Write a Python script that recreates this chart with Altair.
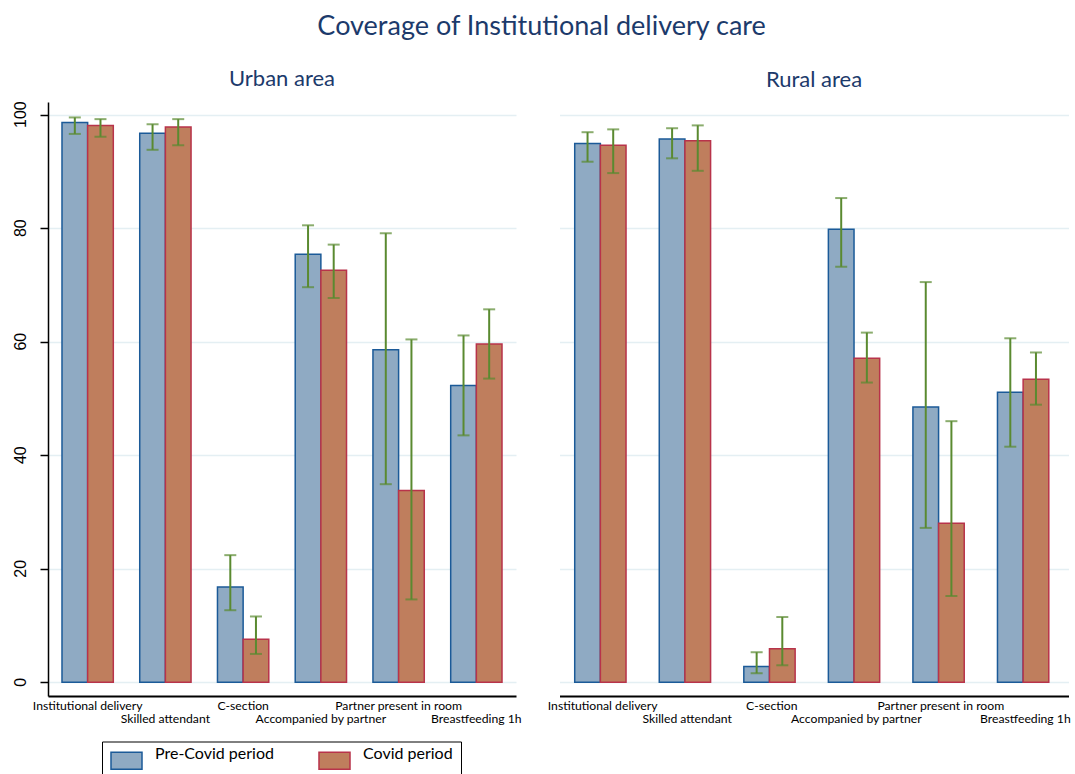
import json
import altair as alt
import pandas as pd

# Indicators (x categories) and periods
categories = [
    "Institutional delivery",
    "Skilled attendant",
    "C-section",
    "Accompanied by partner",
    "Partner present in room",
    "Breastfeeding 1h",
]
periods = ["Pre-Covid period", "Covid period"]

# Coverage (%) with 95% CI, urban area
urban_pre = [98.6, 96.7, 16.8, 75.4, 58.6, 52.3]
urban_pre_lo = [96.6, 93.8, 12.7, 69.6, 34.9, 43.5]
urban_pre_hi = [99.5, 98.3, 22.4, 80.5, 79.1, 61.1]
urban_cov = [98.1, 97.8, 7.6, 72.6, 33.8, 59.6]
urban_cov_lo = [96.1, 94.6, 5.0, 67.7, 14.6, 53.5]
urban_cov_hi = [99.2, 99.2, 11.6, 77.1, 60.4, 65.7]

# Coverage (%) with 95% CI, rural area
rural_pre = [94.9, 95.7, 2.8, 79.8, 48.5, 51.1]
rural_pre_lo = [91.7, 92.3, 1.6, 73.2, 27.2, 41.5]
rural_pre_hi = [96.9, 97.6, 5.3, 85.3, 70.5, 60.6]
rural_cov = [94.6, 95.4, 5.9, 57.1, 28.0, 53.4]
rural_cov_lo = [89.7, 90.1, 3.0, 52.8, 15.2, 48.9]
rural_cov_hi = [97.4, 98.1, 11.5, 61.6, 46.0, 58.1]

# y-axis tick values
Y_TICKS = [0, 20, 40, 60, 80, 100]

rows = []
for area, series in [
    ("Urban area", [(urban_pre, urban_pre_lo, urban_pre_hi), (urban_cov, urban_cov_lo, urban_cov_hi)]),
    ("Rural area", [(rural_pre, rural_pre_lo, rural_pre_hi), (rural_cov, rural_cov_lo, rural_cov_hi)]),
]:
    for period, (vals, los, his) in zip(periods, series):
        for cat, v, lo, hi in zip(categories, vals, los, his):
            rows.append({"area": area, "indicator": cat, "period": period,
                         "value": v, "lo": lo, "hi": hi})
df = pd.DataFrame(rows)
tick_df = pd.DataFrame({"tick": Y_TICKS})

NAVY = "#1C3A6B"
FILLS = ["#8FAAC3", "#BF7E5D"]
STROKES = ["#1B5A98", "#B8334A"]
GREEN = "#5A8A30"
GRID = "#E4EFF3"
FONT = "Lato"

# second-row labels are pushed down one line so the axis labels alternate
second_row = categories[1::2]
label_expr = f"indexof({json.dumps(second_row)}, datum.value) >= 0 ? ['', datum.label] : datum.label"

y_scale = alt.Scale(domain=[-2.41, 102.22], nice=False, zero=False)
H = 594

# legend key: a 31x17 rectangle drawn on a 17px symbol slot, nudged down a little
KEY_PATH = "M-1.824,-0.82H1.824V1.18H-1.824Z"


def panel(area, width, show_y):
    if show_y:
        y_axis = alt.Axis(values=Y_TICKS, title=None, grid=True,
                          gridColor=GRID, gridWidth=1.5, domainColor="black",
                          domainWidth=1.5, tickColor="black", tickWidth=1.5, tickSize=8,
                          labels=False)
    else:
        y_axis = alt.Axis(values=Y_TICKS, title=None, grid=True,
                          gridColor=GRID, gridWidth=1.5, domain=False, ticks=False,
                          labels=False)

    x_enc = alt.X("indicator:N", sort=categories, title=None,
                  scale=alt.Scale(paddingInner=0.34, paddingOuter=0.18),
                  axis=alt.Axis(labelAngle=0, ticks=False, domainColor="black",
                                domainWidth=2, labelExpr=label_expr, labelFont=FONT,
                                labelFontSize=12.2, labelColor="black", labelPadding=3,
                                labelLineHeight=13.5, labelOverlap=False,
                                labelBaseline="top", labelLimit=300))
    xo = alt.XOffset("period:N", sort=periods)

    base = alt.Chart(df).transform_filter(alt.datum.area == area)

    bars = base.mark_bar(strokeWidth=1.5).encode(
        x=x_enc,
        xOffset=xo,
        y=alt.Y("value:Q", scale=y_scale, axis=y_axis),
        y2=alt.datum(0),
        fill=alt.Fill("period:N", sort=periods,
                      scale=alt.Scale(domain=periods, range=FILLS),
                      legend=alt.Legend(
                          title=None, orient="none", direction="horizontal",
                          legendX=54, legendY=639.5,
                          symbolType=KEY_PATH, symbolSize=289, symbolOffset=7,
                          symbolStrokeWidth=1.5, labelFont=FONT, labelFontSize=16,
                          labelColor="black", labelOffset=19, columnPadding=41,
                          labelBaseline="alphabetic", padding=8,
                          strokeColor="black", fillColor="white")),
        stroke=alt.Stroke("period:N", sort=periods,
                          scale=alt.Scale(domain=periods, range=STROKES),
                          legend=None),
    )

    whisker = base.mark_rule(color=GREEN, strokeWidth=2).encode(
        x=x_enc, xOffset=xo, y=alt.Y("lo:Q", scale=y_scale, axis=y_axis), y2="hi:Q")
    cap_lo = base.mark_tick(color=GREEN, size=12, thickness=2).encode(
        x=x_enc, xOffset=xo, y=alt.Y("lo:Q", scale=y_scale, axis=y_axis))
    cap_hi = base.mark_tick(color=GREEN, size=12, thickness=2).encode(
        x=x_enc, xOffset=xo, y=alt.Y("hi:Q", scale=y_scale, axis=y_axis))

    layers = [bars, whisker, cap_lo, cap_hi]
    if show_y:
        # rotated y tick labels, reading bottom to top
        y_labels = alt.Chart(tick_df).mark_text(
            angle=270, align="center", baseline="middle",
            font="Liberation Sans", fontSize=16, color="black",
        ).encode(
            y=alt.Y("tick:Q", scale=y_scale, axis=y_axis),
            x=alt.value(-27),
            text=alt.Text("tick:Q"),
        )
        layers.append(y_labels)

    return alt.layer(*layers).properties(
        width=width, height=H,
        title=alt.TitleParams(area, font=FONT, fontSize=22, fontWeight="normal",
                              color=NAVY, anchor="middle", offset=10),
    )


chart = alt.hconcat(
    panel("Urban area", 468, True),
    panel("Rural area", 509, False),
    spacing=43.5,
    bounds="flush",
).properties(
    title=alt.TitleParams("Coverage of Institutional delivery care", font=FONT,
                          fontSize=27, fontWeight="normal", color=NAVY,
                          anchor="middle", offset=27),
    padding={"left": 12, "top": 12, "right": 0, "bottom": 0},
    background="white",
).configure_view(stroke="transparent")

chart.save("out.html", embed_options={"renderer": "svg", "actions": False})
